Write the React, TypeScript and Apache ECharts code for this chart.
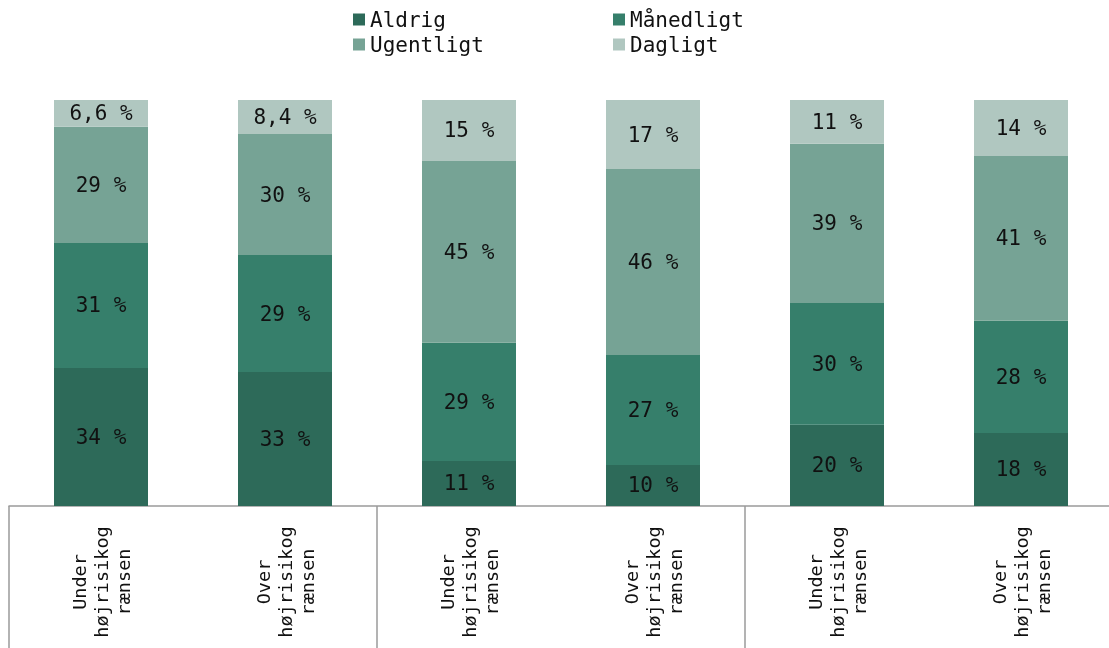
import React, { useEffect, useRef } from "react";
import * as echarts from "echarts";

const categories = [
  "Under\nhøjrisikog\nrænsen",
  "Over\nhøjrisikog\nrænsen",
  "Under\nhøjrisikog\nrænsen",
  "Over\nhøjrisikog\nrænsen",
  "Under\nhøjrisikog\nrænsen",
  "Over\nhøjrisikog\nrænsen",
];

const aldrig = [34.0, 33.0, 11.1, 10.1, 20.0, 18.0];
const maanedligt = [30.8, 28.8, 29.1, 27.1, 30.0, 27.6];
const ugentligt = [28.6, 29.8, 44.8, 45.8, 39.2, 40.6];
const dagligt = [6.6, 8.4, 15.0, 17.0, 10.8, 13.8];

const seriesNames = ["Aldrig", "Månedligt", "Ugentligt", "Dagligt"];
const seriesColors = ["#2d6a59", "#367f6b", "#76a395", "#b0c7c0"];

const FONT = "'DejaVu Sans Mono', monospace";

function fmt(v: number): string {
  if (v >= 10) return `${Math.round(v)} %`;
  return `${v.toFixed(1).replace(".", ",")} %`;
}

export default function App() {
  const ref = useRef<HTMLDivElement>(null);
  useEffect(() => {
    if (!ref.current) return;
    const chart = echarts.init(ref.current, undefined, { renderer: "svg" });
    const data = [aldrig, maanedligt, ugentligt, dagligt];
    const legendCommon = {
      orient: "vertical" as const,
      top: 9,
      padding: 0,
      itemWidth: 12,
      itemHeight: 12,
      itemGap: 4,
      itemTextGap: 6,
      icon: "rect",
      textStyle: { fontFamily: FONT, fontSize: 21, color: "#111" },
    };
    chart.setOption({
      animation: false,
      legend: [
        { ...legendCommon, left: 353, data: ["Aldrig", "Ugentligt"] },
        { ...legendCommon, left: 613, data: ["Månedligt", "Dagligt"] },
      ],
      grid: {
        left: 9,
        width: 1104,
        top: 100,
        bottom: 142,
        containLabel: false,
        outerBoundsMode: "none",
      },
      xAxis: {
        type: "category",
        data: categories,
        axisLine: { show: true, lineStyle: { color: "#9a9a9a", width: 1.5 } },
        axisTick: {
          show: true,
          interval: (i: number) => i % 2 === 0,
          length: 142,
          lineStyle: { color: "#9a9a9a", width: 1.5 },
        },
        axisLabel: {
          interval: 0,
          rotate: 90,
          align: "center",
          verticalAlign: "middle",
          margin: 76,
          fontFamily: FONT,
          fontSize: 18.5,
          lineHeight: 22,
          color: "#111",
          hideOverlap: false,
        },
      },
      yAxis: {
        type: "value",
        min: 0,
        max: 100,
        show: false,
        splitLine: { show: false },
      },
      series: seriesNames.map((name, k) => ({
        name,
        type: "bar",
        stack: "total",
        barWidth: 94,
        data: data[k],
        itemStyle: { color: seriesColors[k] },
        label: {
          show: true,
          position: "inside",
          formatter: (p: any) => fmt(p.value),
          fontFamily: FONT,
          fontSize: 21,
          color: "#111",
        },
      })),
    });
    return () => chart.dispose();
  }, []);
  return (
    <div
      ref={ref}
      style={{ position: "fixed", left: 0, top: 0, width: 1109, height: 648 }}
    />
  );
}
